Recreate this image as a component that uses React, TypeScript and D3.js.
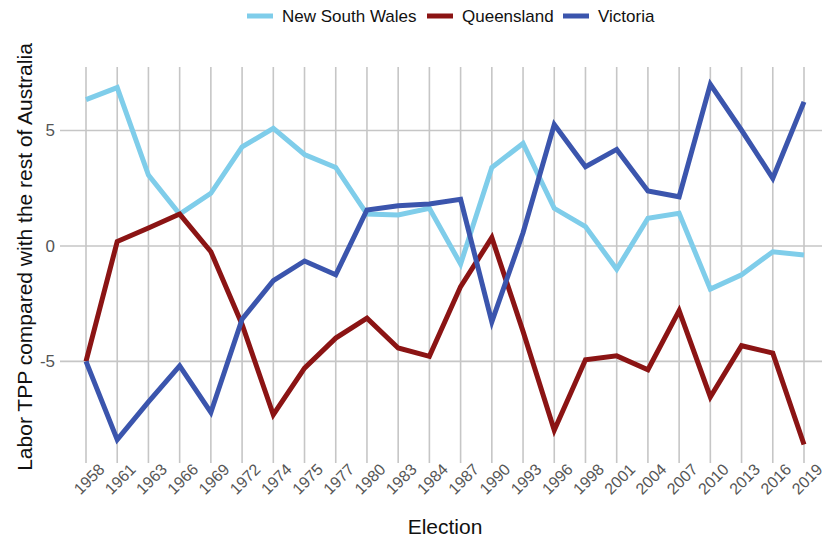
import * as d3 from "d3";
import { useEffect, useRef } from "react";

// election years (x categories)
const elections = [
  "1958", "1961", "1963", "1966", "1969", "1972", "1974", "1975", "1977", "1980", "1983", "1984",
  "1987", "1990", "1993", "1996", "1998", "2001", "2004", "2007", "2010", "2013", "2016", "2019",
];

// Labor TPP vs rest of Australia, per state
const nswValues = [
  6.34, 6.86, 3.07, 1.38, 2.28, 4.29, 5.09, 3.96, 3.4, 1.38, 1.34, 1.63,
  -0.78, 3.4, 4.44, 1.63, 0.84, -1.01, 1.2, 1.41, -1.87, -1.25, -0.25, -0.39,
];
const qldValues = [
  -5.0, 0.19, 0.78, 1.38, -0.25, -3.4, -7.31, -5.29, -3.99, -3.13, -4.42, -4.78,
  -1.76, 0.36, -3.7, -7.98, -4.93, -4.76, -5.36, -2.8, -6.54, -4.32, -4.64, -8.6,
];
const vicValues = [
  -5.0, -8.39, -6.75, -5.19, -7.21, -3.17, -1.5, -0.65, -1.25, 1.56, 1.74, 1.82,
  2.02, -3.29, 0.57, 5.26, 3.43, 4.18, 2.38, 2.13, 7.0, 5.01, 2.93, 6.24,
];

const yTicks = [-5, 0, 5];

const series = [
  { name: "New South Wales", values: nswValues, color: "#7fcdea" },
  { name: "Queensland", values: qldValues, color: "#8b1414" },
  { name: "Victoria", values: vicValues, color: "#3b55ad" },
];

export default function App() {
  const ref = useRef<SVGSVGElement>(null);

  useEffect(() => {
    document.body.style.margin = "0";
    const svg = d3.select(ref.current);
    svg.selectAll("*").remove();

    const width = 828;
    const height = 537;
    const panel = { left: 60, right: 822, top: 67, bottom: 463 };
    const font = "'Liberation Sans', Arial, sans-serif";

    svg.attr("width", width).attr("height", height).style("display", "block");

    const x = d3.scalePoint().domain(elections).range([86, 804]);
    const y = d3.scaleLinear().domain([-9.4, 7.75]).range([panel.bottom, panel.top]);

    // grid
    const grid = svg.append("g").attr("stroke", "#c6c6c6").attr("stroke-width", 1.6);
    grid.selectAll("line.h")
      .data(yTicks)
      .join("line")
      .attr("x1", panel.left)
      .attr("x2", panel.right)
      .attr("y1", d => y(d))
      .attr("y2", d => y(d));
    grid.selectAll("line.v")
      .data(elections)
      .join("line")
      .attr("x1", d => x(d)!)
      .attr("x2", d => x(d)!)
      .attr("y1", panel.top)
      .attr("y2", panel.bottom);

    // y tick labels
    svg.append("g")
      .selectAll("text")
      .data(yTicks)
      .join("text")
      .attr("x", 55)
      .attr("y", d => y(d))
      .attr("dy", "0.35em")
      .attr("text-anchor", "end")
      .attr("font-family", font)
      .attr("font-size", 17)
      .attr("fill", "#555")
      .text(d => d);

    // x tick labels
    svg.append("g")
      .selectAll("text")
      .data(elections)
      .join("text")
      .attr("transform", d => `translate(${x(d)! + 3},479) rotate(-45)`)
      .attr("dy", "0.35em")
      .attr("text-anchor", "middle")
      .attr("font-family", font)
      .attr("font-size", 16)
      .attr("fill", "#555")
      .text(d => d);

    // lines
    const line = d3.line<number>()
      .x((_, i) => x(elections[i])!)
      .y(d => y(d));

    svg.append("g")
      .selectAll("path")
      .data(series)
      .join("path")
      .attr("d", d => line(d.values))
      .attr("fill", "none")
      .attr("stroke", d => d.color)
      .attr("stroke-width", 5)
      .attr("stroke-linejoin", "miter");

    // axis titles
    svg.append("text")
      .attr("x", 445)
      .attr("y", 534)
      .attr("text-anchor", "middle")
      .attr("font-family", font)
      .attr("font-size", 21)
      .attr("fill", "#111")
      .text("Election");

    svg.append("text")
      .attr("transform", "translate(32,257) rotate(-90)")
      .attr("text-anchor", "middle")
      .attr("font-family", font)
      .attr("font-size", 21)
      .attr("fill", "#111")
      .text("Labor TPP compared with the rest of Australia");

    // legend
    const legendX = [247, 427, 563];
    const legend = svg.append("g")
      .selectAll("g")
      .data(series)
      .join("g")
      .attr("transform", (_, i) => `translate(${legendX[i]},16)`);
    legend.append("line")
      .attr("x1", 0)
      .attr("x2", 26)
      .attr("stroke", d => d.color)
      .attr("stroke-width", 5);
    legend.append("text")
      .attr("x", 35)
      .attr("dy", "0.35em")
      .attr("font-family", font)
      .attr("font-size", 17)
      .attr("fill", "#111")
      .text(d => d.name);
  }, []);

  return <svg ref={ref}></svg>;
}
